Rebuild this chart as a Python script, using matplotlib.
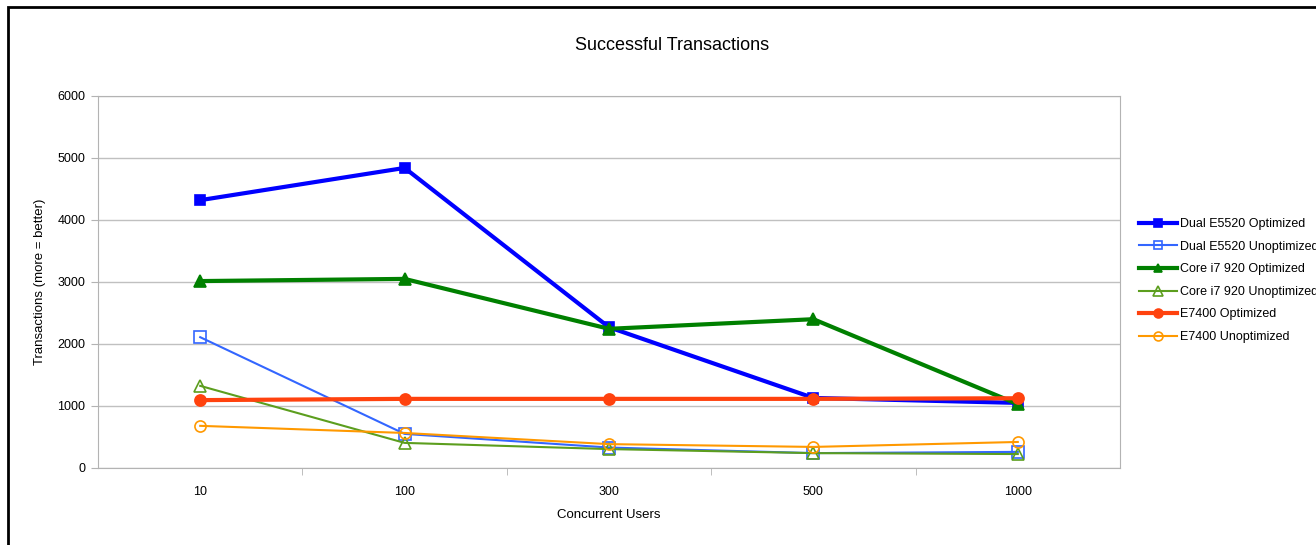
# Successful transactions chart

import numpy as np
import matplotlib
matplotlib.use('Agg')
import matplotlib.pyplot as plt
from matplotlib.patches import Rectangle

plt.rcParams['font.family'] = ['Liberation Sans', 'DejaVu Sans']

users = ['10', '100', '300', '500', '1000']

dual_opt = [4320, 4840, 2270, 1130, 1050]
dual_unopt = [2110, 550, 330, 240, 260]
i7_opt = [3015, 3050, 2245, 2400, 1030]
i7_unopt = [1325, 405, 305, 240, 225]
e7400_opt = [1095, 1115, 1115, 1115, 1125]
e7400_unopt = [680, 565, 385, 340, 420]

fig = plt.figure(figsize=(13.16, 5.45), dpi=100)
ax = fig.add_axes([98/1316, 77/545, 1022/1316, 372/545])

x = np.arange(len(users))
grid_col = '#c0c0c0'
axis_col = '#b3b3b3'

# series: values, colour, line width, marker, filled?, marker size
series = [
    ('Dual E5520 Optimized', dual_opt, '#0000ff', 3.0, 's', True, 7),
    ('Dual E5520 Unoptimized', dual_unopt, '#3366ff', 1.5, 's', False, 8),
    ('Core i7 920 Optimized', i7_opt, '#008000', 3.0, '^', True, 8),
    ('Core i7 920 Unoptimized', i7_unopt, '#5c9e1e', 1.5, '^', False, 9),
    ('E7400 Optimized', e7400_opt, '#ff420e', 3.0, 'o', True, 8),
    ('E7400 Unoptimized', e7400_unopt, '#ff9900', 1.5, 'o', False, 8),
]

for name, vals, col, lw, mk, filled, ms in series:
    ax.plot(x, vals, color=col, lw=lw, marker=mk, markersize=ms,
            markerfacecolor=col if filled else 'none',
            markeredgecolor=col, markeredgewidth=1.2, label=name, zorder=3)

ax.set_xlim(-0.5, len(users) - 0.5)
ax.set_ylim(0, 6000)
ax.set_yticks(np.arange(0, 6001, 1000))
ax.set_xticks(x)
ax.set_xticklabels(users)
ax.set_xticks(np.arange(0.5, len(users) - 1, 1), minor=True)
ax.yaxis.grid(True, color=grid_col, lw=1)
ax.set_axisbelow(True)
for s in ax.spines.values():
    s.set_color(axis_col)
ax.tick_params(axis='y', colors=axis_col, labelcolor='black', length=5, labelsize=9, pad=4)
ax.tick_params(axis='x', which='major', length=0, labelsize=9, pad=13)
ax.tick_params(axis='x', which='minor', colors=axis_col, length=5)

ax.set_xlabel('Concurrent Users', fontsize=9.5, labelpad=8)
ax.set_ylabel('Transactions (more = better)', fontsize=9.5, labelpad=8)
fig.text(672/1316, 1 - 45/545, 'Successful Transactions', fontsize=13, ha='center', va='center')

leg = fig.legend(loc='upper left', bbox_to_anchor=(1134/1316, 1 - 213/545), frameon=False,
                 fontsize=9, handlelength=3.0, handletextpad=0.3, labelspacing=0.85,
                 borderaxespad=0, markerscale=0.8)

# outer black frame
fig.patches.append(Rectangle((8/1316, -0.1), 1.2, 1 - 7/545 + 0.1, transform=fig.transFigure,
                             fill=False, edgecolor='black', lw=2))

fig.savefig('out.png', dpi=100)
